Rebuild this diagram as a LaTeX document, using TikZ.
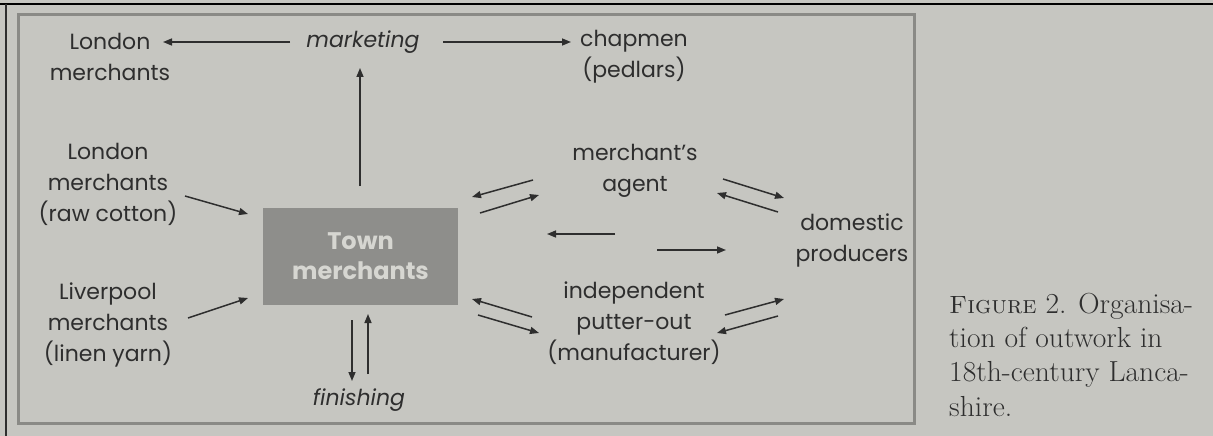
\documentclass[tikz,border=0pt]{standalone}
\usepackage{fontspec}
\usepackage{xcolor}
\usepackage{graphicx}
\usepackage{tikz}
\usetikzlibrary{arrows.meta,positioning,calc}
\newfontfamily\diagfont{Poppins}
\definecolor{paper}{HTML}{C6C6C1}
\definecolor{ink}{HTML}{2E2E2E}
\definecolor{frame}{HTML}{8A8A86}
\definecolor{boxgray}{HTML}{8E8E8B}
\definecolor{boxtext}{HTML}{D6D6D1}
\tikzset{
  lbl/.style={align=center, text=ink, font=\diagfont\fontsize{22}{31}\selectfont, inner sep=0pt},
  act/.style={lbl, font=\diagfont\itshape\fontsize{22}{31}\selectfont},
  townbox/.style={rectangle, fill=boxgray, minimum width=195pt, minimum height=97pt,
                  align=center, text=boxtext, font=\diagfont\bfseries\fontsize{24}{30}\selectfont},
  flow/.style={-{Triangle[length=9pt,width=7pt]}, draw=ink, line width=1.5pt},
}

\begin{document}
\begin{tikzpicture}[x=1pt,y=-1pt]
\fill[paper] (0,0) rectangle (1213,436);
\useasboundingbox (0,0) rectangle (1213,436);
\draw[black, line width=2pt] (0,4) -- (1213,4);
\draw[ink, line width=2pt] (6,4) -- (6,436);
\draw[frame, line width=3pt] (18,15) rectangle (914,423);

\node[lbl] (lonmkt) at (110,57) {London\\merchants};
\node[act] (marketing) at (363,42) {marketing};
\node[lbl] (chapmen) at (634,57) {chapmen\\(pedlars)};
\node[lbl] (loncot) at (108,184) {London\\merchants\\(raw cotton)};
\node[lbl] (liver) at (108,325) {Liverpool\\merchants\\(linen yarn)};
\node[townbox] (town) at (360.5,256.5) {Town\\merchants};
\node[act] (finishing) at (359,400) {finishing};
\node[lbl] (agent) at (635,171) {merchant’s\\agent};
\node[lbl] (domestic) at (852,240) {domestic\\producers};
\node[lbl] (putter) at (634,323) {independent\\putter-out\\(manufacturer)};

\coordinate (mL) at (290,42);  \coordinate (mLe) at (163,42);
\coordinate (mR) at (443,42);  \coordinate (mRe) at (571,42);
\coordinate (tU) at (360,186); \coordinate (tUe) at (360,68);
\coordinate (cA) at (185,196); \coordinate (cAe) at (248,214);
\coordinate (yA) at (188,318); \coordinate (yAe) at (248,298);
\coordinate (fD) at (352,320); \coordinate (fDe) at (352,381);
\coordinate (fU) at (368,374); \coordinate (fUe) at (368,314);
\coordinate (ta1) at (533,180); \coordinate (ta1e) at (472,197);
\coordinate (ta2) at (480,213); \coordinate (ta2e) at (539,195);
\coordinate (ad1) at (723,179); \coordinate (ad1e) at (784,198);
\coordinate (ad2) at (778,212); \coordinate (ad2e) at (717,193);
\coordinate (md1) at (615,234); \coordinate (md1e) at (547,234);
\coordinate (md2) at (657,250); \coordinate (md2e) at (726,250);
\coordinate (tp1) at (532,317); \coordinate (tp1e) at (472,299);
\coordinate (tp2) at (478,315); \coordinate (tp2e) at (539,333);
\coordinate (pd1) at (725,315); \coordinate (pd1e) at (784,299);
\coordinate (pd2) at (778,316); \coordinate (pd2e) at (717,333);

\draw[flow] (mL) -- (mLe);
\draw[flow] (mR) -- (mRe);
\draw[flow] (tU) -- (tUe);
\draw[flow] (cA) -- (cAe);
\draw[flow] (yA) -- (yAe);
\draw[flow] (fD) -- (fDe);
\draw[flow] (fU) -- (fUe);
\draw[flow] (ta1) -- (ta1e);
\draw[flow] (ta2) -- (ta2e);
\draw[flow] (ad1) -- (ad1e);
\draw[flow] (ad2) -- (ad2e);
\draw[flow] (md1) -- (md1e);
\draw[flow] (md2) -- (md2e);
\draw[flow] (tp1) -- (tp1e);
\draw[flow] (tp2) -- (tp2e);
\draw[flow] (pd1) -- (pd1e);
\draw[flow] (pd2) -- (pd2e);

\node[anchor=north west, inner sep=0pt, text=ink,
      font=\fontsize{29}{34.3}\selectfont] (caption) at (949,289)
  {\scalebox{1.02}[1]{\begin{tabular}{@{}l@{}}{\fontsize{25}{34.3}\selectfont\textsc{Figure}} \oldstylenums{2}. Organisa-\\tion of outwork in\\\oldstylenums{18}th-century Lanca-\\shire.\end{tabular}}};
\end{tikzpicture}
\end{document}
